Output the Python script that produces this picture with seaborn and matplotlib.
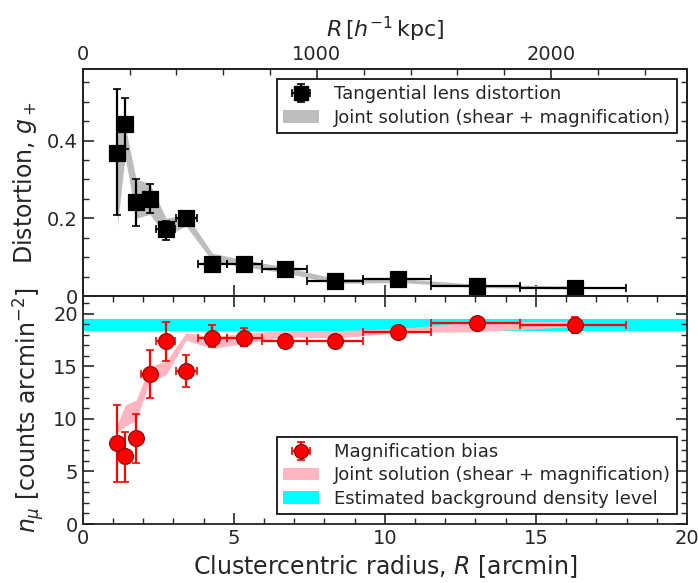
import numpy as np
import matplotlib
matplotlib.use("Agg")
import matplotlib.pyplot as plt
import seaborn as sns
from matplotlib.ticker import MultipleLocator, FixedLocator, FixedFormatter

# ---------------- data ----------------
R = [1.15, 1.40, 1.77, 2.22, 2.76, 3.42, 4.29, 5.35, 6.68, 8.35, 10.45, 13.05, 16.30]
R_lo = [1.00, 1.24, 1.56, 1.94, 2.43, 3.10, 3.80, 4.77, 5.93, 7.42, 9.27, 11.53, 14.46]
R_hi = [1.24, 1.56, 1.94, 2.43, 3.04, 3.78, 4.77, 5.93, 7.42, 9.27, 11.53, 14.46, 17.99]

g_plus = [0.367, 0.443, 0.241, 0.249, 0.173, 0.200, 0.083, 0.083, 0.069, 0.038, 0.045, 0.025, 0.021]
g_err_lo = [0.158, 0.064, 0.060, 0.036, 0.028, 0.019, 0.010, 0.010, 0.008, 0.006, 0.006, 0.005, 0.005]
g_err_hi = [0.165, 0.066, 0.059, 0.039, 0.021, 0.019, 0.010, 0.010, 0.008, 0.006, 0.006, 0.005, 0.005]

g_band_lo = [0.18, 0.36, 0.20, 0.21, 0.155, 0.18, 0.090, 0.075, 0.060, 0.032, 0.035, 0.022, 0.018]
g_band_hi = [0.46, 0.44, 0.30, 0.29, 0.200, 0.21, 0.110, 0.093, 0.075, 0.045, 0.045, 0.030, 0.025]

n_mu = [7.74, 6.48, 8.22, 14.25, 17.37, 14.60, 17.75, 17.75, 17.37, 17.46, 18.30, 19.10, 18.95]
n_err_lo = [3.71, 2.45, 2.38, 2.25, 1.87, 1.52, 0.95, 0.85, 0.60, 0.30, 0.30, 0.25, 0.75]
n_err_hi = [3.59, 2.31, 2.23, 2.35, 1.90, 1.50, 1.15, 0.95, 0.60, 0.30, 0.30, 0.25, 0.75]

n_band_lo = [8.7, 9.27, 9.9, 13.55, 14.2, 17.5, 16.7, 17.2, 17.8, 17.7, 18.2, 18.3, 18.8]
n_band_hi = [9.5, 11.3, 11.8, 15.0, 15.5, 18.2, 17.8, 18.2, 18.4, 18.4, 18.6, 19.27, 19.3]

bg_level = 18.95
bg_halfwidth = 0.55

kpc_per_arcmin = 129.0

# ---------------- style ----------------
sns.set_theme(style="ticks")
plt.rcParams['font.family'] = ['DejaVu Sans']
plt.rcParams['mathtext.fontset'] = 'dejavusans'
plt.rcParams['xtick.direction'] = 'in'
plt.rcParams['ytick.direction'] = 'in'
plt.rcParams['axes.edgecolor'] = '#222222'
plt.rcParams['axes.linewidth'] = 1.3

LBL = 17
TCK = 14
LEG = 13

fig = plt.figure(figsize=(6.98, 5.83), dpi=100)
L, Rr = 82.7 / 698, 687 / 698
ax1 = fig.add_axes([L, 1 - 296 / 583, Rr - L, (296 - 69) / 583])
ax2 = fig.add_axes([L, 1 - 524 / 583, Rr - L, (524 - 296) / 583], sharex=ax1)

R_arr = np.array(R)
xerr = [R_arr - np.array(R_lo), np.array(R_hi) - R_arr]

# ---- top panel ----
ax1.fill_between(R, g_band_lo, g_band_hi, color='#bdbdbd', lw=0,
                 label='Joint solution (shear + magnification)', zorder=1)
sns.scatterplot(x=R, y=g_plus, ax=ax1, marker='s', s=120, color='black',
                edgecolor='black', zorder=4, legend=False)
ax1.errorbar(R, g_plus, yerr=[g_err_lo, g_err_hi], xerr=xerr, fmt='s',
             color='black', ms=10, elinewidth=1.6, capsize=3, capthick=1.2,
             label='Tangential lens distortion', zorder=3)

ax1.set_xlim(0, 20)
ax1.set_ylim(0, 0.584)
ax1.yaxis.set_major_locator(FixedLocator([0, 0.2, 0.4]))
ax1.yaxis.set_major_formatter(FixedFormatter(['0', '0.2', '0.4']))
ax1.yaxis.set_minor_locator(MultipleLocator(0.05))
ax1.tick_params(axis='x', which='both', labelbottom=False, bottom=True, top=False)
ax1.xaxis.set_major_locator(MultipleLocator(5))
ax1.tick_params(axis='x', which='major', length=8, width=1.2)
ax1.tick_params(axis='x', which='minor', length=0)
ax1.tick_params(axis='y', which='both', left=True, right=True)
ax1.tick_params(axis='y', which='major', length=8, width=1.2, labelsize=TCK)
ax1.tick_params(axis='y', which='minor', length=4, width=1.0)
ax1.set_ylabel(r'Distortion, $g_+$', fontsize=LBL, labelpad=6)

h, l = ax1.get_legend_handles_labels()
order = [l.index('Tangential lens distortion'), l.index('Joint solution (shear + magnification)')]
leg1 = ax1.legend([h[i] for i in order], [l[i] for i in order], loc='upper right',
                  fontsize=LEG, frameon=True, fancybox=False, edgecolor='black',
                  framealpha=1, handlelength=2.0, borderpad=0.35, labelspacing=0.3,
                  borderaxespad=0.55)
leg1.get_frame().set_linewidth(1.2)

axt = ax1.twiny()
axt.set_xlim(0, 20 * kpc_per_arcmin)
axt.xaxis.set_major_locator(MultipleLocator(1000))
axt.xaxis.set_minor_locator(MultipleLocator(200))
axt.tick_params(axis='x', which='major', length=8, width=1.2, labelsize=TCK, direction='in')
axt.tick_params(axis='x', which='minor', length=4, width=1.0, direction='in')
axt.set_xlabel(r'$R\,[h^{-1}\,\mathrm{kpc}]$', fontsize=16, labelpad=6)

# ---- bottom panel ----
ax2.axhspan(bg_level - bg_halfwidth, bg_level + bg_halfwidth, color='cyan', lw=0,
            label='Estimated background density level', zorder=0)
ax2.fill_between(R, n_band_lo, n_band_hi, color='#ffb6c1', lw=0,
                 label='Joint solution (shear + magnification)', zorder=1)
sns.scatterplot(x=R, y=n_mu, ax=ax2, marker='o', s=130, color='red',
                edgecolor='#8b0000', linewidth=0.8, zorder=4, legend=False)
ax2.errorbar(R, n_mu, yerr=[n_err_lo, n_err_hi], xerr=xerr, fmt='o',
             color='red', mec='#8b0000', ms=10, elinewidth=1.6, capsize=3,
             capthick=1.2, label='Magnification bias', zorder=3)

ax2.set_ylim(0, 21.7)
ax2.yaxis.set_major_locator(MultipleLocator(5))
ax2.yaxis.set_minor_locator(MultipleLocator(1))
ax2.xaxis.set_major_locator(MultipleLocator(5))
ax2.xaxis.set_minor_locator(MultipleLocator(1))
ax2.tick_params(axis='both', which='both', left=True, right=True, top=True, bottom=True)
ax2.tick_params(axis='both', which='major', length=8, width=1.2, labelsize=TCK)
ax2.tick_params(axis='both', which='minor', length=4, width=1.0)
ax2.set_ylabel(r'$n_\mu$ [counts arcmin$^{-2}$]', fontsize=LBL, labelpad=4)
ax2.set_xlabel(r'Clustercentric radius, $R$ [arcmin]', fontsize=LBL, labelpad=4)

h, l = ax2.get_legend_handles_labels()
names = ['Magnification bias', 'Joint solution (shear + magnification)',
         'Estimated background density level']
leg2 = ax2.legend([h[l.index(n)] for n in names], names, loc='lower right',
                  fontsize=LEG, frameon=True, fancybox=False, edgecolor='black',
                  framealpha=1, handlelength=2.0, borderpad=0.35, labelspacing=0.3,
                  borderaxespad=0.55)
leg2.get_frame().set_linewidth(1.2)

fig.savefig('out.png', dpi=100)
